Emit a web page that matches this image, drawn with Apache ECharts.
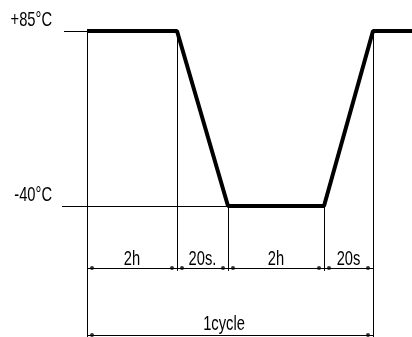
<!DOCTYPE html>
<html lang="en">
<head>
    <meta charset="utf-8">
    <title>Temperature Cycle</title>
    <script src="https://cdn.jsdelivr.net/npm/echarts@6.0.0/dist/echarts.min.js"></script>
    <style>* { margin: 0; padding: 0; }
    #chart-container { width: 412px; height: 337px; background: #fff; }</style>
</head>
<body>
    <div id="chart-container"></div>
    <script>
      // phases of one cycle (drawn widths, diagram is not to scale)
      var phaseLabels = ['2h', '20s.', '2h', '20s'];
      var phaseSpans = [90, 51, 96, 49];
      // temperature at each phase boundary
      var boundaryTemps = [85, 85, -40, -40, 85];
      var levelTemps = [85, -40];
      var levelLabels = ['+85°C', '-40°C'];
      var cycleLabel = '1cycle';

      // layout helpers (diagram units)
      var xMin = -87, xMax = 325;
      var yMin = -133.6, yMax = 107.1;
      var dimY1 = -84.3, dimY2 = -132.1, tickBottom = -86.4;
      var dotInset = 5;
      var fontFamily = '"Liberation Sans", Arial, sans-serif';

      var bounds = [0];
      phaseSpans.forEach(function (w, i) { bounds.push(bounds[i] + w); });
      var cycleEnd = bounds[bounds.length - 1];

      // thick temperature profile
      var profile = bounds.map(function (x, i) { return [x, boundaryTemps[i]]; });
      profile.push([xMax, boundaryTemps[boundaryTemps.length - 1]]);

      // thin construction lines
      var thin = [];
      thin.push({ coords: [[-23, levelTemps[0]], [0, levelTemps[0]]] });
      thin.push({ coords: [[-25, levelTemps[1]], [bounds[2], levelTemps[1]]] });
      thin.push({ coords: [[0, levelTemps[0]], [0, yMin]] });
      thin.push({ coords: [[cycleEnd, levelTemps[0]], [cycleEnd, yMin]] });
      for (var i = 1; i < bounds.length - 1; i++) {
          thin.push({ coords: [[bounds[i], boundaryTemps[i]], [bounds[i], tickBottom]] });
      }
      thin.push({ coords: [[0, dimY1], [cycleEnd, dimY1]] });
      thin.push({ coords: [[0, dimY2], [cycleEnd, dimY2]] });

      // dimension dots
      var dots = [];
      for (var j = 0; j < phaseSpans.length; j++) {
          dots.push([bounds[j] + dotInset, dimY1]);
          dots.push([bounds[j + 1] - dotInset, dimY1]);
      }
      dots.push([dotInset, dimY2]);
      dots.push([cycleEnd - dotInset, dimY2]);

      var myChart = echarts.init(document.getElementById('chart-container'));
      myChart.setOption({
          animation: false,
          grid: { left: 0, right: 0, top: 0, bottom: 0 },
          xAxis: { type: 'value', min: xMin, max: xMax, show: false },
          yAxis: { type: 'value', min: yMin, max: yMax, show: false },
          series: [
              {
                  type: 'lines',
                  coordinateSystem: 'cartesian2d',
                  data: thin,
                  lineStyle: { color: '#000', width: 1, opacity: 1 },
                  silent: true
              },
              {
                  type: 'line',
                  data: profile,
                  showSymbol: false,
                  lineStyle: { color: '#000', width: 4 },
                  silent: true
              },
              {
                  type: 'scatter',
                  data: dots,
                  symbolSize: 4,
                  itemStyle: { color: '#000' },
                  silent: true
              }
          ]
      });

      // narrow CAD-like text: placed through the grid's scale, squeezed horizontally
      function label(text, x, y, align, vAlign, dy) {
          var p = myChart.convertToPixel({ gridIndex: 0 }, [x, y]);
          return {
              type: 'text',
              x: p[0],
              y: p[1] + (dy || 0),
              scaleX: 0.7,
              silent: true,
              style: {
                  text: text,
                  fill: '#000',
                  fontSize: 21,
                  fontFamily: fontFamily,
                  align: align,
                  verticalAlign: vAlign
              }
          };
      }

      var texts = [];
      phaseLabels.forEach(function (t, k) {
          texts.push(label(t, (bounds[k] + bounds[k + 1]) / 2, dimY1, 'center', 'bottom', 2));
      });
      texts.push(label(cycleLabel, cycleEnd / 2 - 6, dimY2, 'center', 'bottom', 0));
      levelTemps.forEach(function (t, k) {
          texts.push(label(levelLabels[k], -35, t, 'right', 'middle', -11));
      });
      myChart.setOption({ graphic: texts });
  </script>
</body>
</html>
